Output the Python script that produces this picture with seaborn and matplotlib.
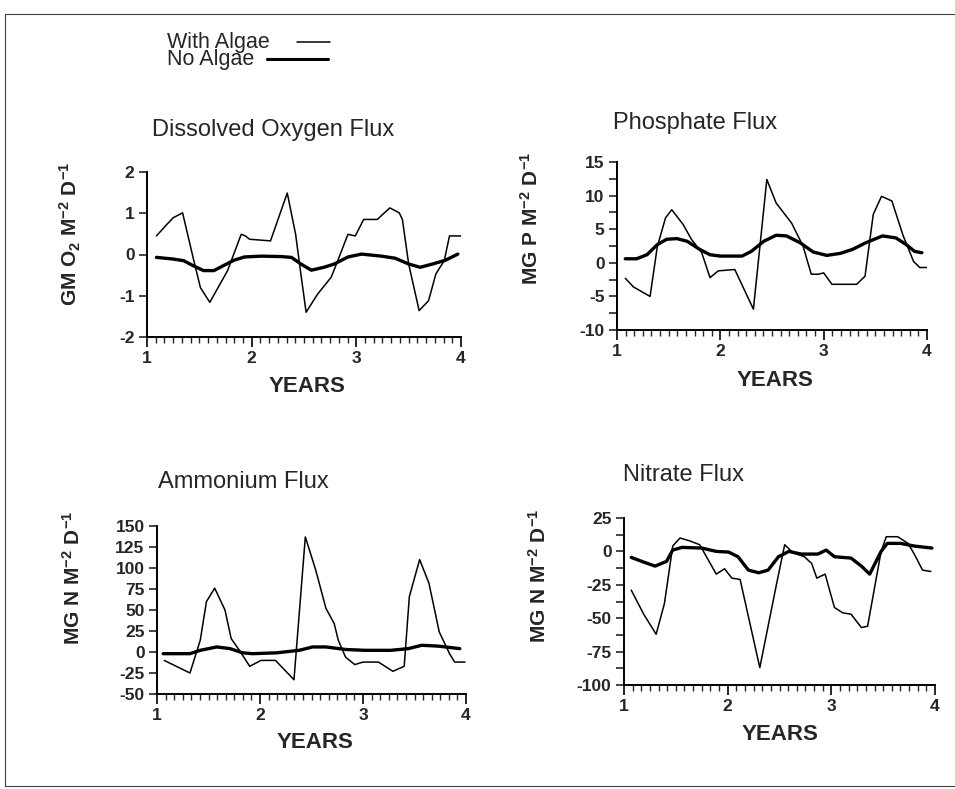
import matplotlib
matplotlib.use("Agg")
import matplotlib.pyplot as plt
from matplotlib.lines import Line2D
from matplotlib.ticker import MultipleLocator
import numpy as np
import pandas as pd
import seaborn as sns

# ---- data ----
# Dissolved oxygen flux (GM O2 M-2 D-1)
ox_alg_t = [1.09, 1.19, 1.25, 1.34, 1.44, 1.51, 1.60, 1.77, 1.90, 1.94, 1.98, 2.18,
            2.34, 2.42, 2.47, 2.52, 2.63, 2.76, 2.81, 2.92, 2.99, 3.07, 3.20, 3.32,
            3.41, 3.44, 3.50, 3.60, 3.69, 3.76, 3.84, 3.89, 4.00]
ox_alg_v = [0.45, 0.73, 0.89, 1.01, -0.07, -0.80, -1.16, -0.39, 0.49, 0.45, 0.37, 0.33,
            1.49, 0.49, -0.47, -1.40, -0.96, -0.55, -0.23, 0.49, 0.45, 0.85, 0.85, 1.13,
            1.01, 0.85, -0.23, -1.36, -1.12, -0.47, -0.15, 0.45, 0.45]
ox_no_t = [1.09, 1.25, 1.35, 1.44, 1.54, 1.64, 1.73, 1.83, 1.93, 2.09, 2.28, 2.38,
           2.47, 2.57, 2.69, 2.79, 2.92, 3.05, 3.24, 3.37, 3.50, 3.61, 3.73, 3.85, 3.97]
ox_no_v = [-0.07, -0.11, -0.15, -0.27, -0.39, -0.39, -0.27, -0.14, -0.06, -0.04, -0.05, -0.07,
           -0.23, -0.38, -0.31, -0.23, -0.06, 0.01, -0.04, -0.09, -0.23, -0.31, -0.23, -0.14, 0.01]

# Phosphate flux (MG P M-2 D-1)
ph_alg_t = [1.08, 1.16, 1.32, 1.39, 1.47, 1.53, 1.64, 1.72, 1.82, 1.90, 1.98, 2.14,
            2.32, 2.45, 2.54, 2.69, 2.80, 2.88, 2.95, 3.00, 3.08, 3.32, 3.40, 3.48,
            3.56, 3.66, 3.77, 3.87, 3.93, 4.00]
ph_alg_v = [-2.3, -3.6, -5.0, 2.4, 6.7, 7.9, 5.7, 3.5, 1.5, -2.2, -1.2, -1.0,
            -6.9, 12.4, 8.9, 5.9, 2.5, -1.7, -1.7, -1.5, -3.2, -3.2, -2.0, 7.2,
            9.9, 9.2, 4.0, 0.2, -0.7, -0.7]
ph_no_t = [1.08, 1.19, 1.29, 1.39, 1.48, 1.58, 1.68, 1.80, 1.90, 2.00, 2.21, 2.30,
           2.42, 2.54, 2.64, 2.77, 2.90, 3.03, 3.16, 3.28, 3.41, 3.57, 3.70, 3.80, 3.88, 3.95]
ph_no_v = [0.6, 0.6, 1.2, 2.7, 3.5, 3.6, 3.2, 2.0, 1.2, 1.0, 1.0, 1.7,
           3.2, 4.1, 4.0, 3.0, 1.6, 1.1, 1.4, 2.0, 3.0, 4.0, 3.7, 2.7, 1.7, 1.5]

# Ammonium flux (MG N M-2 D-1)
am_alg_t = [1.07, 1.32, 1.42, 1.48, 1.56, 1.66, 1.72, 1.80, 1.90, 2.01, 2.15, 2.33,
            2.44, 2.54, 2.64, 2.72, 2.76, 2.83, 2.92, 3.00, 3.15, 3.29, 3.40, 3.45,
            3.55, 3.64, 3.74, 3.84, 3.89, 3.99]
am_alg_v = [-10, -25, 14, 60, 76, 50, 16, 2, -17, -10, -10, -33,
            137, 98, 52, 34, 14, -6, -15, -12, -12, -23, -17, 66,
            110, 82, 24, -2, -12, -12]
am_no_t = [1.06, 1.32, 1.42, 1.58, 1.71, 1.83, 1.93, 2.16, 2.38, 2.51, 2.64, 2.83,
           3.02, 3.27, 3.44, 3.57, 3.73, 3.94]
am_no_v = [-2, -2, 2, 6, 4, -1, -2, -1, 2, 6, 6, 3,
           2, 2, 4, 8, 7, 4]

# Nitrate flux (MG N M-2 D-1)
ni_alg_t = [1.07, 1.19, 1.31, 1.39, 1.47, 1.54, 1.63, 1.73, 1.89, 1.97, 2.04, 2.12,
            2.31, 2.47, 2.55, 2.63, 2.74, 2.81, 2.86, 2.94, 3.03, 3.11, 3.19, 3.29,
            3.35, 3.48, 3.53, 3.64, 3.74, 3.80, 3.88, 3.96]
ni_alg_v = [-29, -47, -62, -39, 4, 10, 8, 5, -17, -13, -20, -21,
            -87, -25, 5, -1, -4, -9, -20, -17, -42, -46, -47, -57,
            -56, 0, 11, 11, 6, -2, -14, -15]
ni_no_t = [1.07, 1.19, 1.30, 1.41, 1.47, 1.56, 1.75, 1.89, 2.01, 2.10, 2.20, 2.30,
           2.39, 2.49, 2.59, 2.71, 2.87, 2.95, 3.03, 3.19, 3.29, 3.37, 3.48, 3.54,
           3.67, 3.80, 3.97]
ni_no_v = [-4.5, -8, -11, -7.5, 1, 3, 2.5, 0, -0.5, -4, -14, -16,
           -14, -4, 0, -2, -2, 1, -4, -5, -11, -17, 0, 6,
           6, 4, 2.5]

year_ticks = [1, 2, 3, 4]
legend_labels = ["With Algae", "No Algae"]

W, H = 955, 789

sns.set_style("ticks")
plt.rcParams["font.family"] = ["Liberation Sans", "DejaVu Sans"]
plt.rcParams["axes.unicode_minus"] = False
plt.rcParams["mathtext.fontset"] = "custom"
plt.rcParams["mathtext.rm"] = "Liberation Sans:bold"
plt.rcParams["mathtext.bf"] = "Liberation Sans:bold"
plt.rcParams["mathtext.default"] = "bf"

fig = plt.figure(figsize=(W / 100, H / 100), dpi=100)
fig.patch.set_facecolor("white")


def px_axes(left, right, top, bottom):
    return fig.add_axes([left / W, 1 - bottom / H, (right - left) / W, (bottom - top) / H])


panels = [
    dict(box=(147, 461, 172, 337), alg=(ox_alg_t, ox_alg_v), no=(ox_no_t, ox_no_v),
         ylim=(-2, 2), major=1, minor=None,
         title="Dissolved Oxygen Flux", tpos=(273, 130),
         ylabel=r"GM O$_2$ M$^{-2}$ D$^{-1}$", ypos=(70, 234), xpos=(307, 387)),
    dict(box=(617, 927, 162, 330), alg=(ph_alg_t, ph_alg_v), no=(ph_no_t, ph_no_v),
         ylim=(-10, 15), major=5, minor=2.5,
         title="Phosphate Flux", tpos=(695, 123),
         ylabel=r"MG P M$^{-2}$ D$^{-1}$", ypos=(531, 218), xpos=(775, 381)),
    dict(box=(157, 466, 526, 694), alg=(am_alg_t, am_alg_v), no=(am_no_t, am_no_v),
         ylim=(-50, 150), major=25, minor=None,
         title="Ammonium Flux", tpos=(243, 482),
         ylabel=r"MG N M$^{-2}$ D$^{-1}$", ypos=(73, 578), xpos=(315, 742)),
    dict(box=(624, 935, 518, 685), alg=(ni_alg_t, ni_alg_v), no=(ni_no_t, ni_no_v),
         ylim=(-100, 25), major=25, minor=12.5,
         title="Nitrate Flux", tpos=(683, 475),
         ylabel=r"MG N M$^{-2}$ D$^{-1}$", ypos=(539, 576), xpos=(780, 735)),
]

for p in panels:
    ax = px_axes(*p["box"])
    alg = pd.DataFrame({"t": p["alg"][0], "v": p["alg"][1]})
    no = pd.DataFrame({"t": p["no"][0], "v": p["no"][1]})
    sns.lineplot(data=alg, x="t", y="v", ax=ax, color="black", linewidth=1.1,
                 estimator=None, sort=False)
    sns.lineplot(data=no, x="t", y="v", ax=ax, color="black", linewidth=2.4,
                 estimator=None, sort=False)
    ax.set_xlim(1, 4)
    ax.set_ylim(*p["ylim"])
    ax.set_xticks(year_ticks)
    ax.xaxis.set_minor_locator(MultipleLocator(1 / 12))
    ax.yaxis.set_major_locator(MultipleLocator(p["major"]))
    if p["minor"]:
        ax.yaxis.set_minor_locator(MultipleLocator(p["minor"]))
        ax.tick_params(axis="y", which="minor", length=6, width=1.2)
    else:
        ax.yaxis.set_minor_locator(plt.NullLocator())
    ax.tick_params(axis="x", which="major", length=7, width=1.4, direction="out",
                   labelsize=12.5, pad=3)
    ax.tick_params(axis="x", which="minor", length=4, width=1.0, direction="out")
    ax.tick_params(axis="y", which="major", length=6, width=1.2, direction="out",
                   labelsize=12.5, pad=3)
    for lab in ax.get_xticklabels() + ax.get_yticklabels():
        lab.set_fontweight("bold")
    sns.despine(ax=ax)
    for s in ("left", "bottom"):
        ax.spines[s].set_linewidth(1.4)
        ax.spines[s].set_color("black")
    ax.set_xlabel("")
    ax.set_ylabel("")
    ax.set_facecolor("none")

    fig.text(p["tpos"][0] / W, 1 - p["tpos"][1] / H, p["title"], fontsize=17,
             ha="center", va="center")
    fig.text(p["ypos"][0] / W, 1 - p["ypos"][1] / H, p["ylabel"], fontsize=15,
             fontweight="bold", rotation=90, ha="center", va="center")
    fig.text(p["xpos"][0] / W, 1 - p["xpos"][1] / H, "YEARS", fontsize=16,
             fontweight="bold", ha="center", va="center")

# legend at top left: two tightly set lines, one text object
fig.text(167 / W, 1 - 32 / H, "\n".join(legend_labels), fontsize=15.5,
         ha="left", va="top", linespacing=0.78)
fig.add_artist(Line2D([297 / W, 330 / W], [1 - 42 / H, 1 - 42 / H], color="black", lw=1.1))
fig.add_artist(Line2D([267 / W, 328 / W], [1 - 59 / H, 1 - 59 / H], color="black", lw=2.2))

# scanned page frame
frame = dict(color="0.25", lw=0.8)
fig.add_artist(Line2D([5 / W, 1], [1 - 14 / H, 1 - 14 / H], **frame))
fig.add_artist(Line2D([5 / W, 5 / W], [1 - 14 / H, 1 - 786 / H], **frame))
fig.add_artist(Line2D([5 / W, 1], [1 - 786 / H, 1 - 786 / H], **frame))

fig.savefig("out.png", dpi=100, facecolor="white")
